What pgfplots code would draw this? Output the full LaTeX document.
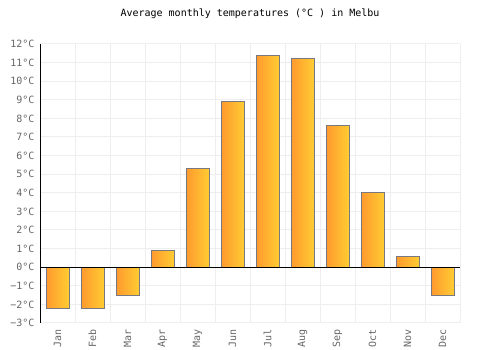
\documentclass[border=0pt]{standalone}
\usepackage{fontspec}
\setmainfont{DejaVu Sans Mono}
\usepackage{pgfplots}
\pgfplotsset{compat=1.18}
\definecolor{barL}{RGB}{255,153,46}
\definecolor{barR}{RGB}{255,204,51}
\definecolor{gridc}{RGB}{238,238,238}
\definecolor{tickc}{RGB}{102,102,102}
\definecolor{edgec}{RGB}{120,120,128}
\begin{document}
\begin{tikzpicture}[x=1pt,y=1pt]
\path[use as bounding box] (0,0) rectangle (500,350);
\begin{axis}[
  at={(40pt,27pt)}, anchor=south west,
  scale only axis, width=420pt, height=279pt,
  xmin=-0.5, xmax=11.5, ymin=-3, ymax=12,
  ybar, bar width=23pt, bar shift=0pt,
  xtick={0,...,11},
  xticklabels={Jan,Feb,Mar,Apr,May,Jun,Jul,Aug,Sep,Oct,Nov,Dec},
  minor xtick={-0.5,0.5,...,11.5},
  ytick={-3,...,12},
  yticklabels={−3°C,−2°C,−1°C,0°C,1°C,2°C,3°C,4°C,5°C,6°C,7°C,8°C,9°C,10°C,11°C,12°C},
  xminorgrids, ymajorgrids,
  grid style={gridc, line width=1pt},
  minor grid style={gridc, line width=1pt},
  axis line style={draw=none},
  major tick length=0pt, minor tick length=0pt,
  tick label style={font=\fontsize{10}{12}\selectfont, text=tickc},
  xticklabel style={rotate=90, anchor=east, xshift=-3pt},
  yticklabel style={xshift=-2pt},
  title={Average monthly temperatures (°C ) in Melbu},
  title style={at={(0.5,1)}, anchor=center, yshift=24pt, font=\fontsize{10}{12}\selectfont, text=black},
  mybar/.style={draw=edgec, line width=0.8pt, left color=barL, right color=barR},
]
\addplot[mybar] coordinates {(0,-2.2)};
\addplot[mybar] coordinates {(1,-2.2)};
\addplot[mybar] coordinates {(2,-1.5)};
\addplot[mybar] coordinates {(3,0.9)};
\addplot[mybar] coordinates {(4,5.3)};
\addplot[mybar] coordinates {(5,8.9)};
\addplot[mybar] coordinates {(6,11.4)};
\addplot[mybar] coordinates {(7,11.2)};
\addplot[mybar] coordinates {(8,7.6)};
\addplot[mybar] coordinates {(9,4.0)};
\addplot[mybar] coordinates {(10,0.6)};
\addplot[mybar] coordinates {(11,-1.5)};
\draw[black, line width=1pt] (axis cs:-0.5,0) -- (axis cs:11.5,0);
\draw[black, line width=1pt] (axis cs:-0.5,-3) -- (axis cs:-0.5,12);
\end{axis}
\end{tikzpicture}
\end{document}
